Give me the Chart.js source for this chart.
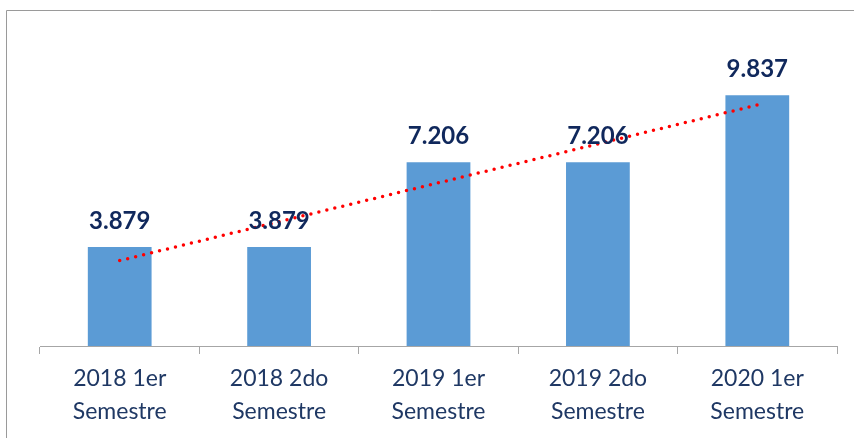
<!DOCTYPE html>
<html>
<head>
<meta charset="utf-8">
<script src="https://cdn.jsdelivr.net/npm/chart.js@4"></script>
<style>
    html, body { margin: 0; padding: 0; background: #fff; overflow: hidden; }
    canvas { display: block; }
</style>
</head>
<body>
<canvas id="semesterChart" width="854" height="438"></canvas>
<script>
// chart data
var categories = [
    ['2018 1er', 'Semestre'],
    ['2018 2do', 'Semestre'],
    ['2019 1er', 'Semestre'],
    ['2019 2do', 'Semestre'],
    ['2020 1er', 'Semestre']
];
var totals = [3879, 3879, 7206, 7206, 9837];
// dotted trend line, only the two end values (gaps spanned)
var trendValues = [3350, null, null, null, 9450];

document.addEventListener('DOMContentLoaded', function () {
    var ctx = document.getElementById('semesterChart').getContext('2d');
    var fmt = new Intl.NumberFormat('de-DE');

    // grey frame round the chart (right/bottom edges are cut off in the picture)
    var framePlugin = {
        id: 'frame',
        beforeDraw: function (chart) {
            var c = chart.ctx;
            c.save();
            c.strokeStyle = '#9a9a9a';
            c.lineWidth = 1;
            c.beginPath();
            c.moveTo(6.5, chart.height);
            c.lineTo(6.5, 10.5);
            c.lineTo(chart.width, 10.5);
            c.stroke();
            c.restore();
        }
    };

    // value labels above the bars
    var valueLabels = {
        id: 'valueLabels',
        afterDatasetsDraw: function (chart) {
            var meta = chart.getDatasetMeta(1); // the bar dataset
            var c = chart.ctx;
            c.save();
            c.font = 'bold 24px Lato';
            c.fillStyle = '#10285c';
            c.textAlign = 'center';
            c.textBaseline = 'alphabetic';
            meta.data.forEach(function (bar, i) {
                c.fillText(fmt.format(totals[i]), bar.x, bar.y - 18);
            });
            c.restore();
        }
    };

    new Chart(ctx, {
        type: 'bar',
        data: {
            labels: categories,
            datasets: [{
                type: 'line',
                label: 'Tendencia',
                data: trendValues,
                spanGaps: true,
                borderColor: '#ff0000',
                borderWidth: 3.5,
                borderDash: [0, 8.2],
                borderCapStyle: 'round',
                pointRadius: 0,
                fill: false,
                order: 0
            }, {
                label: 'Total',
                data: totals,
                backgroundColor: '#5b9bd5',
                borderWidth: 0,
                barPercentage: 1,
                categoryPercentage: 0.4,
                order: 1
            }]
        },
        options: {
            responsive: false,
            maintainAspectRatio: false,
            animation: false,
            layout: {
                padding: { left: 40, right: 17, top: 40, bottom: 0 }
            },
            plugins: {
                legend: { display: false },
                tooltip: { enabled: false }
            },
            scales: {
                x: {
                    offset: true,
                    grid: {
                        offset: true,
                        drawOnChartArea: false,
                        color: '#a6a6a6',
                        tickLength: 8
                    },
                    border: { color: '#a6a6a6', width: 1 },
                    ticks: {
                        color: '#1f3864',
                        font: { family: 'Lato', size: 23, lineHeight: 1.43 },
                        padding: 8,
                        maxRotation: 0,
                        autoSkip: false
                    },
                    afterFit: function (scale) { scale.height = 92; }
                },
                y: {
                    display: false,
                    min: 0,
                    max: 12000
                }
            }
        },
        plugins: [framePlugin, valueLabels]
    });
});
</script>
</body>
</html>
